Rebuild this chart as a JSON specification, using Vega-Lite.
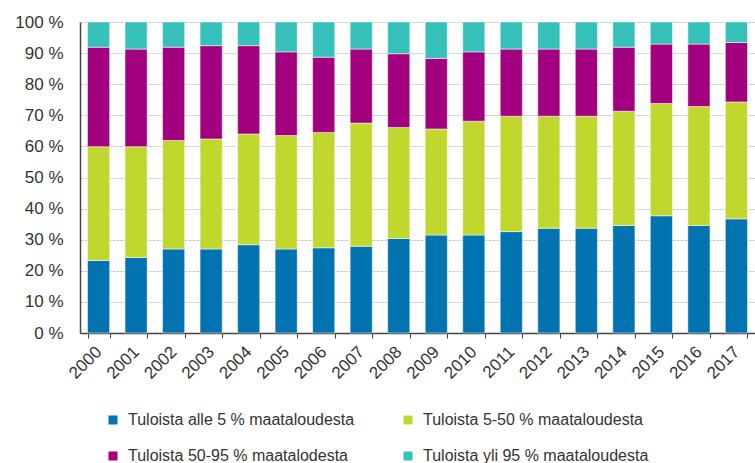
{
  "$schema": "https://vega.github.io/schema/vega-lite/v6.json",
  "width": 675,
  "height": 311,
  "autosize": {"type": "none"},
  "padding": {"left": 80, "top": 22, "right": 0, "bottom": 130},
  "background": "white",
  "datasets": {
    "raw": [
      {"year": "2000", "a": 23.3, "b": 36.6, "c": 32.0, "d": 8.1},
      {"year": "2001", "a": 24.3, "b": 35.6, "c": 31.4, "d": 8.7},
      {"year": "2002", "a": 27.0, "b": 34.9, "c": 30.0, "d": 8.1},
      {"year": "2003", "a": 27.0, "b": 35.4, "c": 30.0, "d": 7.6},
      {"year": "2004", "a": 28.4, "b": 35.6, "c": 28.4, "d": 7.6},
      {"year": "2005", "a": 27.0, "b": 36.5, "c": 26.9, "d": 9.6},
      {"year": "2006", "a": 27.4, "b": 37.1, "c": 24.2, "d": 11.3},
      {"year": "2007", "a": 27.9, "b": 39.6, "c": 23.8, "d": 8.7},
      {"year": "2008", "a": 30.4, "b": 35.7, "c": 23.7, "d": 10.2},
      {"year": "2009", "a": 31.5, "b": 34.1, "c": 22.7, "d": 11.7},
      {"year": "2010", "a": 31.5, "b": 36.6, "c": 22.3, "d": 9.6},
      {"year": "2011", "a": 32.6, "b": 37.1, "c": 21.6, "d": 8.7},
      {"year": "2012", "a": 33.7, "b": 36.0, "c": 21.6, "d": 8.7},
      {"year": "2013", "a": 33.7, "b": 36.0, "c": 21.6, "d": 8.7},
      {"year": "2014", "a": 34.6, "b": 36.7, "c": 20.6, "d": 8.1},
      {"year": "2015", "a": 37.7, "b": 36.1, "c": 19.1, "d": 7.1},
      {"year": "2016", "a": 34.6, "b": 38.2, "c": 20.1, "d": 7.1},
      {"year": "2017", "a": 36.7, "b": 37.6, "c": 19.1, "d": 6.6}
    ]
  },
  "data": {"name": "raw"},
  "transform": [
    {"fold": ["a", "b", "c", "d"], "as": ["key", "value"]},
    {"lookup": "key", "from": {"data": {"values": [
      {"key": "a", "group": "Tuloista alle 5 % maataloudesta"},
      {"key": "b", "group": "Tuloista 5-50 % maataloudesta"},
      {"key": "c", "group": "Tuloista 50-95 % maatalodesta"},
      {"key": "d", "group": "Tuloista yli 95 % maataloudesta"}
    ]}, "key": "key", "fields": ["group"]}}
  ],
  "mark": {"type": "bar", "stroke": "white", "strokeWidth": 0.5},
  "encoding": {
    "x": {
      "field": "year", "type": "ordinal", "title": null,
      "scale": {"paddingInner": 0.41, "paddingOuter": 0.2},
      "axis": {
        "labelAngle": -45, "labelAlign": "right", "labelBaseline": "middle",
        "labelFont": "Liberation Sans", "labelFontSize": 17, "labelColor": "#333333",
        "labelPadding": 11,
        "tickBand": "extent", "tickSize": 5, "tickColor": "#444444",
        "domainColor": "#444444", "domainWidth": 1.5, "grid": false
      }
    },
    "y": {
      "field": "value", "type": "quantitative", "stack": "normalize", "title": null,
      "scale": {"domain": [0, 1]},
      "axis": {
        "values": [0, 0.1, 0.2, 0.3, 0.4, 0.5, 0.6, 0.7, 0.8, 0.9, 1],
        "labelExpr": "round(datum.value * 100) + ' %'",
        "labelFont": "Liberation Sans", "labelFontSize": 17, "labelColor": "#333333",
        "labelPadding": 17, "ticks": false,
        "domainColor": "#444444", "domainWidth": 1.5,
        "grid": true, "gridColor": "#cccccc", "gridDash": [3, 1], "gridWidth": 1
      }
    },
    "color": {
      "field": "group", "type": "nominal",
      "sort": ["Tuloista alle 5 % maataloudesta", "Tuloista 5-50 % maataloudesta", "Tuloista 50-95 % maatalodesta", "Tuloista yli 95 % maataloudesta"],
      "scale": {
        "domain": ["Tuloista alle 5 % maataloudesta", "Tuloista 5-50 % maataloudesta", "Tuloista 50-95 % maatalodesta", "Tuloista yli 95 % maataloudesta"],
        "range": ["#0073b0", "#c1d72e", "#a2007e", "#35c1b9"]
      },
      "legend": {
        "title": null, "orient": "none", "legendX": 25, "legendY": 390,
        "direction": "horizontal",
        "columns": 2, "columnPadding": 45, "rowPadding": 20,
        "symbolType": "square", "symbolSize": 81, "symbolStrokeWidth": 0,
        "labelFont": "Liberation Sans", "labelFontSize": 16, "labelColor": "#333333",
        "labelOffset": 7, "labelLimit": 400
      }
    },
    "order": {"field": "key", "sort": "ascending"}
  },
  "config": {"view": {"stroke": null}}
}
